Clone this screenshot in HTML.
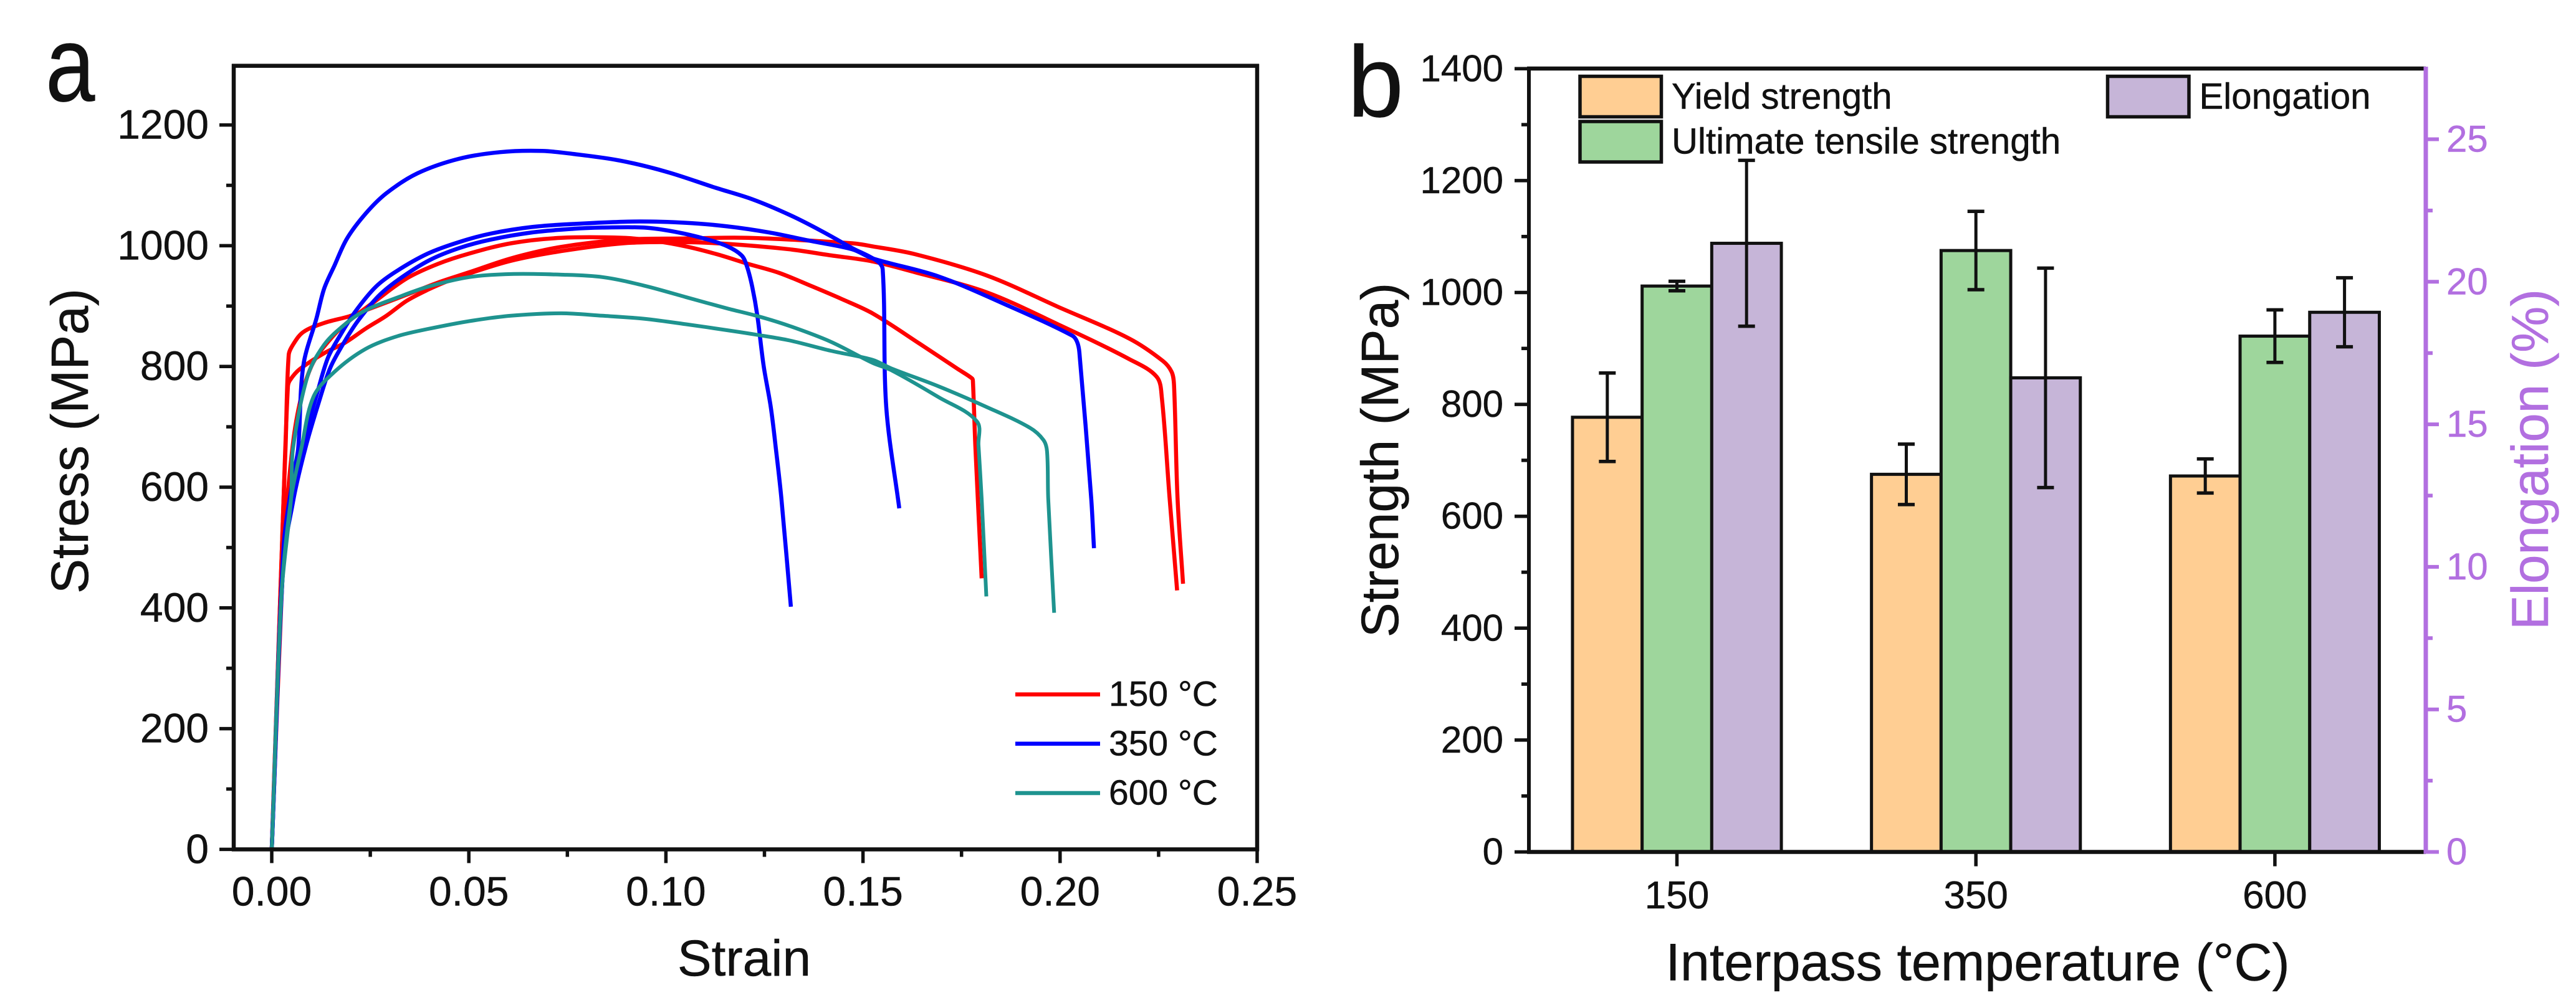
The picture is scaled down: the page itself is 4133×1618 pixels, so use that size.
<!DOCTYPE html>
<html lang="en">
<head>
<meta charset="utf-8">
<title>Stress-strain curves and strength by interpass temperature</title>
<style>
html,body{margin:0;padding:0;background:#fff;width:4133px;height:1618px;overflow:hidden}
svg{display:block}
text{font-family:"Liberation Sans",Arial,sans-serif;fill:#111;stroke:currentColor;stroke-width:.5px;color:#111}
</style>
</head>
<body>
<svg id="figure" xmlns="http://www.w3.org/2000/svg" width="4133" height="1618" viewBox="0 0 4133 1618">
  <rect x="0" y="0" width="4133" height="1618" fill="#fff"/>
  <g id="panelA">
    <text transform="translate(73,162) scale(.83,1)" font-size="172">a</text>
    <g id="curvesA" fill="none" stroke-linejoin="round" stroke-linecap="butt"></g>
    <g id="axesA"></g>
    <text transform="translate(141,708) rotate(-90)" font-size="84" text-anchor="middle">Stress (MPa)</text>
    <text x="1194" y="1566" font-size="82" text-anchor="middle">Strain</text>
    <g id="legendA"></g>
  </g>
  <g id="panelB">
    <text x="2162" y="187" font-size="162">b</text>
    <g id="barsB"></g>
    <g id="axesB"></g>
    <text transform="translate(2243,738.5) rotate(-90)" font-size="84" text-anchor="middle">Strength (MPa)</text>
    <text x="3173" y="1573.5" font-size="84.5" text-anchor="middle">Interpass temperature (°C)</text>
    <text transform="translate(4088,737.5) rotate(-90)" font-size="83.4" text-anchor="middle" style="fill:#B26FE0;color:#B26FE0">Elongation (%)</text>
    <g id="legendB"></g>
  </g>
</svg>
<script>
/* ---------- Panel a data ---------- */
const strainTickLabels = ["0.00", "0.05", "0.10", "0.15", "0.20", "0.25"];
const strainTickValues = [0, 0.05, 0.10, 0.15, 0.20, 0.25];
const strainMinorValues = [0.025, 0.075, 0.125, 0.175, 0.225];
const stressTickValues = [0, 200, 400, 600, 800, 1000, 1200];
const stressMinorValues = [100, 300, 500, 700, 900, 1100];

const red1Strain = [0, 0.003, 0.0035, 0.0043, 0.0054, 0.008, 0.0133, 0.0196, 0.0238, 0.0343, 0.0422, 0.0501, 0.0607, 0.0734, 0.0892, 0.105, 0.1208, 0.1473, 0.1524, 0.1632, 0.1813, 0.1994, 0.2176, 0.2261, 0.2283, 0.2289, 0.2298, 0.2312];
const red1Stress = [0, 581, 664, 819, 836, 857, 872, 883, 893, 919, 939, 956, 979, 998, 1010, 1012, 1013, 1004, 999, 986, 951, 899, 846, 809, 791, 770, 581, 440];
const red2Strain = [0, 0.003, 0.0042, 0.0065, 0.0101, 0.0155, 0.0205, 0.0264, 0.0343, 0.0422, 0.0501, 0.0607, 0.0734, 0.0892, 0.0971, 0.105, 0.1129, 0.1208, 0.1287, 0.1366, 0.1445, 0.1524, 0.1643, 0.174, 0.1777, 0.1779, 0.1785, 0.1801];
const red2Stress = [0, 500, 600, 720, 801, 850, 880, 909, 946, 970, 987, 1004, 1013, 1013, 1008, 999, 986, 970, 955, 934, 912, 888, 838, 796, 780, 775, 670, 449];
const red3Strain = [0, 0.003, 0.0041, 0.0046, 0.007, 0.0133, 0.0185, 0.0239, 0.0291, 0.0343, 0.0396, 0.0449, 0.0501, 0.0607, 0.0734, 0.0892, 0.1034, 0.1156, 0.1314, 0.1418, 0.1524, 0.1632, 0.1813, 0.1994, 0.2176, 0.2245, 0.2258, 0.2278, 0.2297];
const red3Stress = [0, 581, 767, 777, 795, 822, 839, 863, 884, 909, 927, 942, 954, 975, 991, 1004, 1006, 1003, 994, 984, 974, 956, 923, 870, 812, 783, 749, 581, 429];

const blue1Strain = [0, 0.003, 0.0055, 0.0085, 0.012, 0.0148, 0.018, 0.0217, 0.027, 0.0322, 0.04, 0.0475, 0.0555, 0.066, 0.0765, 0.0839, 0.0944, 0.1023, 0.1102, 0.1156, 0.1192, 0.1205, 0.1219, 0.1232, 0.1248, 0.1266, 0.1279, 0.1293, 0.1317];
const blue1Stress = [0, 480, 580, 664, 742, 797, 836, 874, 916, 944, 976, 996, 1010, 1022, 1028, 1030, 1030, 1023, 1011, 999, 984, 967, 932, 884, 801, 733, 664, 581, 402];
const blue2Strain = [0, 0.003, 0.0055, 0.0067, 0.008, 0.0114, 0.0133, 0.0159, 0.0191, 0.0238, 0.0291, 0.037, 0.0475, 0.058, 0.0686, 0.0765, 0.0884, 0.1004, 0.1126, 0.1219, 0.1314, 0.1393, 0.1473, 0.1535, 0.155, 0.1559, 0.1592];
const blue2Stress = [0, 500, 620, 664, 801, 881, 929, 967, 1012, 1053, 1087, 1120, 1144, 1155, 1157, 1152, 1141, 1122, 1096, 1077, 1051, 1025, 996, 975, 961, 733, 565];
const blue3Strain = [0, 0.003, 0.0055, 0.008, 0.0117, 0.0143, 0.0175, 0.0212, 0.0264, 0.0317, 0.0396, 0.0475, 0.0555, 0.066, 0.0765, 0.0918, 0.105, 0.1156, 0.1261, 0.1366, 0.1473, 0.1524, 0.1692, 0.1874, 0.2031, 0.2043, 0.2049, 0.2079, 0.2086];
const blue3Stress = [0, 480, 580, 672, 760, 815, 853, 891, 932, 958, 987, 1006, 1020, 1031, 1036, 1040, 1038, 1032, 1022, 1008, 994, 979, 949, 899, 851, 841, 823, 581, 499];

const teal1Strain = [0, 0.00245, 0.0049, 0.0054, 0.0091, 0.0133, 0.0186, 0.0238, 0.0318, 0.0396, 0.0501, 0.0607, 0.0734, 0.0839, 0.0944, 0.105, 0.1156, 0.1235, 0.1314, 0.1418, 0.1524, 0.1571, 0.1692, 0.1789, 0.1793, 0.1801, 0.1813];
const teal1Stress = [0, 420, 581, 664, 784, 836, 870, 893, 914, 932, 948, 953, 952, 948, 934, 915, 896, 883, 867, 841, 806, 794, 749, 709, 670, 581, 419];
const teal2Strain = [0, 0.00245, 0.0049, 0.0075, 0.0106, 0.0159, 0.0238, 0.0318, 0.0396, 0.0501, 0.0607, 0.0734, 0.0839, 0.0944, 0.105, 0.1156, 0.1235, 0.1314, 0.1418, 0.1524, 0.1571, 0.1692, 0.1813, 0.1922, 0.1958, 0.1967, 0.197, 0.1985];
const teal2Stress = [0, 420, 581, 664, 750, 791, 829, 850, 862, 875, 884, 888, 884, 879, 870, 860, 852, 843, 826, 811, 797, 767, 733, 699, 678, 659, 581, 392];

const legendTemperatures = ["150 °C", "350 °C", "600 °C"];

/* ---------- Panel b data ---------- */
const temperatureLabels = ["150", "350", "600"];
const strengthTickValues = [0, 200, 400, 600, 800, 1000, 1200, 1400];
const strengthMinorValues = [100, 300, 500, 700, 900, 1100, 1300];
const elongationTickValues = [0, 5, 10, 15, 20, 25];
const elongationMinorValues = [2.5, 7.5, 12.5, 17.5, 22.5];

const yieldStrength = [777, 675, 672];
const yieldError = [79, 54, 30.5];
const tensileStrength = [1011.5, 1075, 922];
const tensileError = [8.5, 70, 47];
const elongation = [21.35, 16.63, 18.93];
const elongationError = [2.91, 3.85, 1.21];

/* ---------- Helpers ---------- */
const SVGNS = "http://www.w3.org/2000/svg";
function make(tag, attrs, parent) {
  const el = document.createElementNS(SVGNS, tag);
  for (const k in attrs) el.setAttribute(k, attrs[k]);
  parent.appendChild(el);
  return el;
}
function line(x1, y1, x2, y2, color, w, parent) {
  return make("line", {x1: x1, y1: y1, x2: x2, y2: y2, stroke: color, "stroke-width": w}, parent);
}
function label(str, x, y, size, anchor, color, parent) {
  const t = make("text", {x: x, y: y, "font-size": size, "text-anchor": anchor}, parent);
  if (color) { t.style.fill = color; t.style.color = color; }
  t.textContent = str;
  return t;
}
/* Smooth path through the mapped points; handles scale with each segment so knees stay tight. */
function smoothPath(pts) {
  const tangent = i => {
    const a = pts[Math.max(i - 1, 0)], b = pts[Math.min(i + 1, pts.length - 1)];
    const dx = b[0] - a[0], dy = b[1] - a[1], n = Math.hypot(dx, dy) || 1;
    return [dx / n, dy / n];
  };
  let d = "M" + pts[0][0].toFixed(1) + " " + pts[0][1].toFixed(1);
  for (let i = 0; i < pts.length - 1; i++) {
    const p = pts[i], q = pts[i + 1], len = Math.hypot(q[0] - p[0], q[1] - p[1]) * 0.33;
    const t0 = tangent(i), t1 = tangent(i + 1);
    d += " C" + (p[0] + t0[0] * len).toFixed(1) + " " + (p[1] + t0[1] * len).toFixed(1) + " " +
         (q[0] - t1[0] * len).toFixed(1) + " " + (q[1] - t1[1] * len).toFixed(1) + " " +
         q[0].toFixed(1) + " " + q[1].toFixed(1);
  }
  return d;
}

/* ---------- Panel a ---------- */
const xA = s => 436 + s * 6324;
const yA = v => 1363.4 - v * 0.969;
const A = {l: 375, r: 2017, t: 105.6, b: 1363.4};
const axesA = document.getElementById("axesA");
const curvesA = document.getElementById("curvesA");

const curveList = [
  [red1Strain, red1Stress, "#ff0000", 6.5, "curve-150c-1"],
  [red2Strain, red2Stress, "#ff0000", 6.5, "curve-150c-2"],
  [red3Strain, red3Stress, "#ff0000", 6.5, "curve-150c-3"],
  [blue2Strain, blue2Stress, "#0000ff", 6.5, "curve-350c-1"],
  [blue1Strain, blue1Stress, "#0000ff", 6.5, "curve-350c-2"],
  [blue3Strain, blue3Stress, "#0000ff", 6.5, "curve-350c-3"],
  [teal2Strain, teal2Stress, "#1E938F", 6, "curve-600c-1"],
  [teal1Strain, teal1Stress, "#1E938F", 6, "curve-600c-2"]
];
curveList.forEach(function (c) {
  const pts = c[0].map((s, i) => [xA(s), yA(c[1][i])]);
  const el = make("path", {d: smoothPath(pts), stroke: c[2], "stroke-width": c[3]}, curvesA);
  
  
});

[[A.l, A.t - 3, A.l, A.b + 3, "y-axis-line-left"],
 [A.r, A.t - 3, A.r, A.b + 3, "axis-line-right"],
 [A.l - 3, A.t, A.r + 3, A.t, "axis-line-top"],
 [A.l - 3, A.b, A.r + 3, A.b, "x-axis-line-bottom"]].forEach(function (s) {
  const el = line(s[0], s[1], s[2], s[3], "#111", 6.5, axesA);
  
  
});
stressTickValues.forEach(function (v) {
  const tick = line(A.l - 23, yA(v), A.l, yA(v), "#111", 5.5, axesA);
  
  
  const t = label(String(v), 335, yA(v) + 22, 66, "end", null, axesA);
  
  
});
stressMinorValues.forEach(function (v) {
  const tick = line(A.l - 12, yA(v), A.l, yA(v), "#111", 5.5, axesA);
  
  
});
strainTickValues.forEach(function (s, i) {
  const tick = line(xA(s), A.b, xA(s), A.b + 22, "#111", 5.5, axesA);
  
  
  const t = label(strainTickLabels[i], xA(s), 1453.5, 66, "middle", null, axesA);
  
  
});
strainMinorValues.forEach(function (s) {
  const tick = line(xA(s), A.b, xA(s), A.b + 12, "#111", 5.5, axesA);
  
  
});

const legendA = document.getElementById("legendA");
const legendAColors = ["#ff0000", "#0000ff", "#1E938F"];
legendTemperatures.forEach(function (str, i) {
  const y = 1114.6 + i * 79.2;
  const sw = line(1629, y, 1765, y, legendAColors[i], 6.5, legendA);
  
  
  const t = label(str, 1779, y + 18.5, 57, "start", null, legendA);
  
  
});

/* ---------- Panel b ---------- */
const xB = i => 2690.5 + i * 479.7;
const yB = v => 1367.5 - v * 0.898;
const yE = e => 1367.5 - e * 45.76;
const B = {l: 2453, r: 3892, t: 110, b: 1367.5};
const barW = 111.7;
const barsB = document.getElementById("barsB");
const axesB = document.getElementById("axesB");
const PURPLE = "#B26FE0";
const barColors = ["#FFCE93", "#9ED69C", "#C6B5D8"];

function drawBar(x, top, lo, hi, color, name) {
  const r = make("rect", {x: x - barW / 2, y: top, width: barW, height: B.b - top, fill: color, stroke: "#111", "stroke-width": 5}, barsB);
  
  
  const g = make("g", {}, barsB);
  
  
  line(x, lo, x, hi, "#111", 5, g);
  line(x - 13.5, lo, x + 13.5, lo, "#111", 5.5, g);
  line(x - 13.5, hi, x + 13.5, hi, "#111", 5.5, g);
}
temperatureLabels.forEach(function (name, i) {
  drawBar(xB(i) - barW, yB(yieldStrength[i]), yB(yieldStrength[i] - yieldError[i]), yB(yieldStrength[i] + yieldError[i]), barColors[0], "bar-yield-" + name);
  drawBar(xB(i), yB(tensileStrength[i]), yB(tensileStrength[i] - tensileError[i]), yB(tensileStrength[i] + tensileError[i]), barColors[1], "bar-tensile-" + name);
  drawBar(xB(i) + barW, yE(elongation[i]), yE(elongation[i] - elongationError[i]), yE(elongation[i] + elongationError[i]), barColors[2], "bar-elongation-" + name);
});

[[B.l, B.t - 3, B.l, B.b + 3, "#111", 6, "y-axis-line-strength"],
 [B.l - 3, B.t, B.r, B.t, "#111", 6.5, "axis-line-top-b"],
 [B.l - 3, B.b, B.r, B.b, "#111", 6.5, "x-axis-line-temperature"],
 [B.r, B.t - 3, B.r, B.b + 3, PURPLE, 7, "y-axis-line-elongation"]].forEach(function (s) {
  const el = line(s[0], s[1], s[2], s[3], s[4], s[5], axesB);
  
  
});
strengthTickValues.forEach(function (v) {
  const tick = line(B.l - 23, yB(v), B.l, yB(v), "#111", 5.5, axesB);
  
  
  const t = label(String(v), 2412, yB(v) + 20, 60, "end", null, axesB);
  
  
});
strengthMinorValues.forEach(function (v) {
  const tick = line(B.l - 12, yB(v), B.l, yB(v), "#111", 5.5, axesB);
  
  
});
elongationTickValues.forEach(function (v) {
  const tick = line(B.r, yE(v), B.r + 21, yE(v), PURPLE, 6, axesB);
  
  
  const t = label(String(v), 3925, yE(v) + 20, 60, "start", PURPLE, axesB);
  
  
});
elongationMinorValues.forEach(function (v) {
  const tick = line(B.r, yE(v), B.r + 11, yE(v), PURPLE, 6, axesB);
  
  
});
temperatureLabels.forEach(function (name, i) {
  const tick = line(xB(i), B.b, xB(i), B.b + 23, "#111", 5.5, axesB);
  
  
  const t = label(name, xB(i), 1458, 62, "middle", null, axesB);
  
  
});

const legendB = document.getElementById("legendB");
const legendBLabels = ["Yield strength", "Ultimate tensile strength", "Elongation"];
const legendBNames = ["legend-yield-strength", "legend-ultimate-tensile-strength", "legend-elongation"];
legendBLabels.forEach(function (str, i) {
  const x = i === 2 ? 3381.5 : 2535;
  const y = i === 1 ? 195 : 122.5;
  const sw = make("rect", {x: x, y: y, width: 130.5, height: 65, fill: barColors[i], stroke: "#111", "stroke-width": 5.5}, legendB);
  
  
  const t = label(str, x + (i === 2 ? 147 : 147), y + (i === 1 ? 51.5 : 52), 58.2, "start", null, legendB);
  
  
});
</script>
</body>
</html>
